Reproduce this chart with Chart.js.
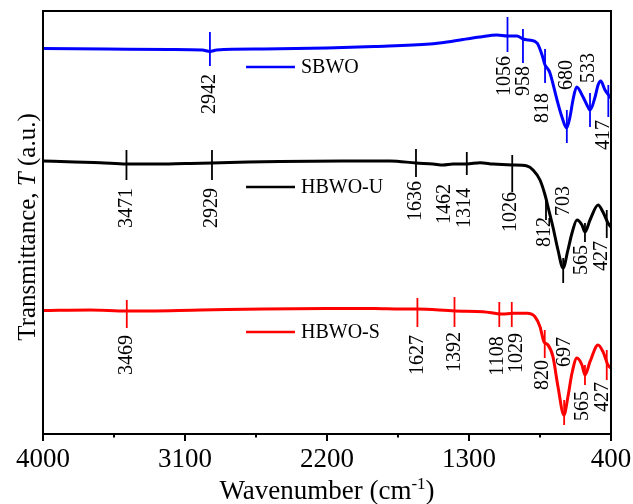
<!DOCTYPE html>
<html><head><meta charset="utf-8">
<script src="https://cdn.jsdelivr.net/npm/chart.js@4.4.0/dist/chart.umd.min.js"></script>
<style>html,body{margin:0;padding:0;background:#fff}canvas{display:block}</style>
</head><body>
<canvas id="c" width="633" height="504"></canvas>
<script>
// ---- data (wavenumber in cm^-1, transmittance in arbitrary offset units) ----
const sbwoWavenumber = [4000,3600,3200,2990,2942,2900,2600,2200,1900,1547,1439,1338,1230,1123,1056,996,958,920,869,837,818,800,787,742,711,681,660,641,618,577,546,533,501,482,465,438,400];
const sbwoT = [385.5,385,384.5,384,382.5,384,385,386,387.5,390,392,394.5,397,399,398,398,395,394,391,379,369,365,361,334,317,306,317,334,347,337,327,324,337,349,353,344,336];

const hbwoUWavenumber = [4000,3800,3638,3471,3300,3100,2929,2700,2500,2100,1800,1636,1528,1465,1401,1314,1230,1148,1026,932,894,850,818,799,768,736,704,673,647,616,584,565,533,482,451,419,400];
const hbwoUT = [273,272,271.3,270,270,270.5,271,272,272.5,273,273,271,270,269,270,270,271.3,270,269,268,264,254,239,227,207,184,166,184,201,214,209,202,214,229,222,211,207];

const hbwoSWavenumber = [4000,3700,3469,3000,2600,2200,1900,1737,1630,1389,1211,1091,1021,932,882,850,825,799,768,736,698,673,647,616,584,565,533,482,451,419,400];
const hbwoST = [123.5,124,123,124,125,125.5,125.5,125,125,123,122.3,120,120.7,120.7,117.3,107.3,92.3,89,77.3,47.3,19,37.3,61,76,69,59,72.3,89,82.3,69,66];

const seriesNames = ['SBWO','HBWO-U','HBWO-S'];
const majorTicks = [4000,3100,2200,1300,400];
const tickLabels = ['4000','3100','2200','1300','400'];
const minorTicks = [3550,2650,1750,850];

// peak marks: label, wavenumber, mark top T, mark bottom T (null = no mark), label wavenumber, label centre T
const sbwoPeaks = [
  ['2942',2942,402,368,2942,340],
  ['1056',1056,417,382,1072,358],
  ['958',958,405,371,951,353],
  ['818',818,385,351,831,326],
  ['680',680,324,291,679,359],
  ['533',533,341,307,539,366],
  ['417',417,349,317,444,299]
];
const hbwoUPeaks = [
  ['3471',3471,284,254,3471,226],
  ['2929',2929,284,254,2929,226],
  ['1636',1636,285,257,1636,233],
  ['1462',1462,null,null,1455,230],
  ['1314',1314,282,259,1325,226],
  ['1026',1026,279,242,1034,222],
  ['812',812,236,214,818,202],
  ['703',703,176,151,698,233],
  ['565',565,211,192,584,174],
  ['427',427,224,196,457,178]
];
const hbwoSPeaks = [
  ['3469',3469,134,106,3469,79],
  ['1627',1627,136,107,1627,79],
  ['1392',1392,137,107,1392,82],
  ['1108',1108,132,107,1116,78],
  ['1029',1029,132,107,996,81],
  ['820',820,104,76,831,59],
  ['697',697,34,9,692,82],
  ['565',565,69,49,577,28],
  ['427',427,84,54,451,37]
];
// legend T levels
const legendLevels = [367,247,102];

const colors = ['#0000ff','#000000','#ff0000'];
const SERIF = '"Liberation Serif","Times New Roman",serif';

function pts(w,t){return w.map((x,i)=>({x:x,y:t[i]}));}

const annot = {
  id:'annot',
  afterDraw(chart){
    const ctx = chart.ctx, xs = chart.scales.x, ys = chart.scales.y, a = chart.chartArea;
    ctx.save();
    // frame
    ctx.strokeStyle='#000'; ctx.lineWidth=2;
    ctx.strokeRect(a.left, a.top, a.right-a.left, a.bottom-a.top);
    // x tick marks + labels
    ctx.beginPath();
    majorTicks.forEach(v=>{const p=xs.getPixelForValue(v); ctx.moveTo(p,a.bottom); ctx.lineTo(p,a.bottom+7);});
    minorTicks.forEach(v=>{const p=xs.getPixelForValue(v); ctx.moveTo(p,a.bottom); ctx.lineTo(p,a.bottom+3.5);});
    ctx.stroke();
    ctx.fillStyle='#000'; ctx.font='27px '+SERIF; ctx.textAlign='center'; ctx.textBaseline='alphabetic';
    majorTicks.forEach((v,i)=>{ ctx.fillText(tickLabels[i], xs.getPixelForValue(v), a.bottom+33); });
    // peak marks and labels
    [sbwoPeaks,hbwoUPeaks,hbwoSPeaks].forEach((peaks,si)=>{
      peaks.forEach(pk=>{
        const [lab,w,t1,t2,lw,lt] = pk;
        if(t1!==null){
          const px = xs.getPixelForValue(w);
          ctx.strokeStyle = colors[si]; ctx.lineWidth = 1.8;
          ctx.beginPath(); ctx.moveTo(px, ys.getPixelForValue(t1)); ctx.lineTo(px, ys.getPixelForValue(t2)); ctx.stroke();
        }
        ctx.save();
        ctx.translate(xs.getPixelForValue(lw), ys.getPixelForValue(lt));
        ctx.rotate(-Math.PI/2);
        ctx.fillStyle='#000'; ctx.font='20px '+SERIF;
        ctx.textAlign='center'; ctx.textBaseline='middle';
        ctx.fillText(lab,0,0);
        ctx.restore();
      });
    });
    // legends
    legendLevels.forEach((lv,i)=>{
      const y = ys.getPixelForValue(lv);
      const x0 = xs.getPixelForValue(2713), x1 = xs.getPixelForValue(2403);
      ctx.strokeStyle=colors[i]; ctx.lineWidth=2.5;
      ctx.beginPath(); ctx.moveTo(x0,y); ctx.lineTo(x1,y); ctx.stroke();
      ctx.fillStyle='#000'; ctx.font='20px '+SERIF; ctx.textAlign='left'; ctx.textBaseline='middle';
      ctx.fillText(seriesNames[i], xs.getPixelForValue(2365), y+1);
    });
    // x title with superscript
    ctx.fillStyle='#000'; ctx.textBaseline='alphabetic'; ctx.textAlign='left';
    const big='27px '+SERIF, small='17px '+SERIF;
    ctx.font=big; const p1='Wavenumber (cm', p3=')';
    const w1=ctx.measureText(p1).width, w3=ctx.measureText(p3).width;
    ctx.font=small; const w2=ctx.measureText('-1').width;
    let x = (a.left+a.right)/2 - (w1+w2+w3)/2;
    const by = 499;
    ctx.font=big; ctx.fillText(p1,x,by); x+=w1;
    ctx.font=small; ctx.fillText('-1',x,by-10); x+=w2;
    ctx.font=big; ctx.fillText(p3,x,by);
    // y title with italic T
    ctx.save();
    ctx.translate(35, 227);
    ctx.rotate(-Math.PI/2);
    const yf='25px '+SERIF, yi='italic 25px '+SERIF;
    const s1='Transmittance, ', s2='T', s3=' (a.u.)';
    ctx.font=yf; const a1=ctx.measureText(s1).width, a3=ctx.measureText(s3).width;
    ctx.font=yi; const a2=ctx.measureText(s2).width;
    let xx = -(a1+a2+a3)/2;
    ctx.font=yf; ctx.fillText(s1,xx,0); xx+=a1;
    ctx.font=yi; ctx.fillText(s2,xx,0); xx+=a2;
    ctx.font=yf; ctx.fillText(s3,xx,0);
    ctx.restore();
    ctx.restore();
  }
};

new Chart(document.getElementById('c'), {
  type:'line',
  data:{datasets:[
    {label:seriesNames[0], data:pts(sbwoWavenumber,sbwoT), borderColor:colors[0], borderWidth:3, pointRadius:0, cubicInterpolationMode:'monotone', fill:false},
    {label:seriesNames[1], data:pts(hbwoUWavenumber,hbwoUT), borderColor:colors[1], borderWidth:3, pointRadius:0, cubicInterpolationMode:'monotone', fill:false},
    {label:seriesNames[2], data:pts(hbwoSWavenumber,hbwoST), borderColor:colors[2], borderWidth:3, pointRadius:0, cubicInterpolationMode:'monotone', fill:false}
  ]},
  options:{
    responsive:false, animation:false, devicePixelRatio:1,
    layout:{padding:{left:43,top:11,right:22,bottom:0}},
    plugins:{legend:{display:false}, tooltip:{enabled:false}},
    scales:{
      x:{type:'linear', reverse:true, min:400, max:4000,
        afterFit(s){ s.height = 70; },
        grid:{display:false, drawTicks:false, tickLength:0},
        border:{display:false},
        ticks:{display:false}
      },
      y:{display:false, min:0, max:423}
    }
  },
  plugins:[annot]
});
</script>
</body></html>
